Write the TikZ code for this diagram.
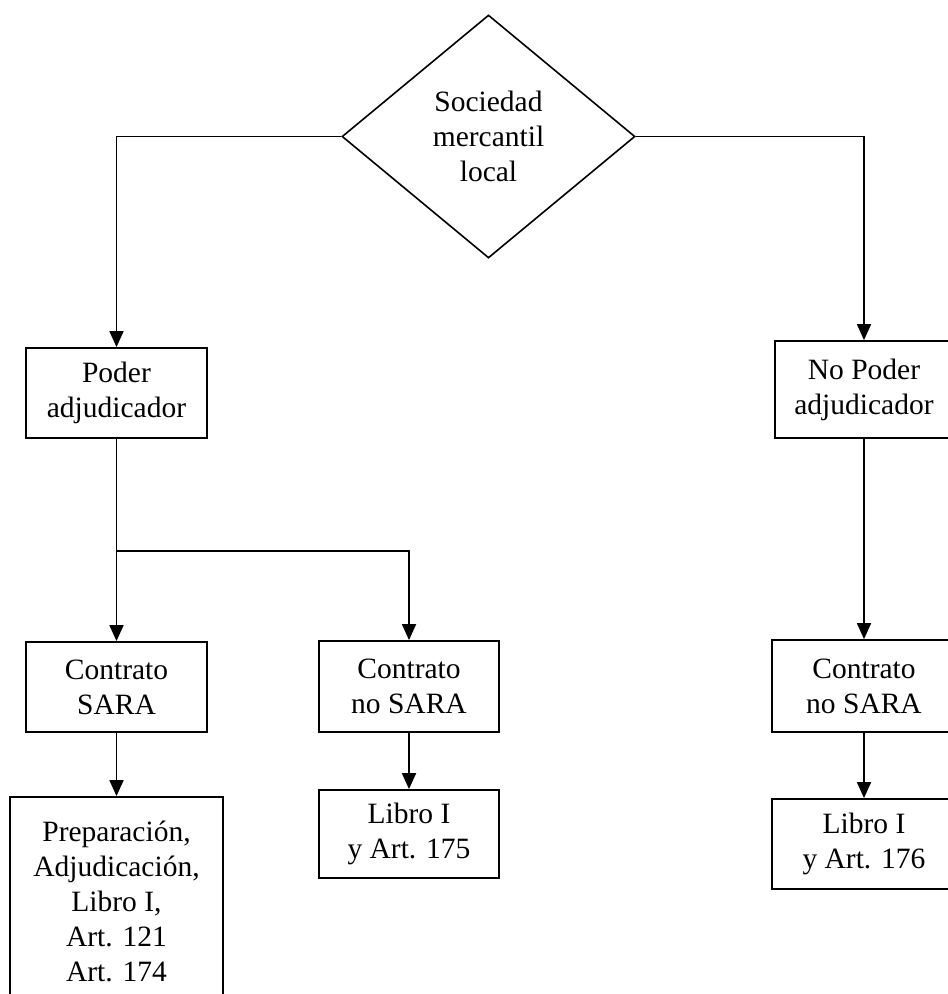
\documentclass[tikz,border=0pt]{standalone}
\usepackage{fontspec}
\setmainfont{Liberation Serif}
\usetikzlibrary{shapes.geometric,arrows.meta}

\tikzset{
  box/.style={draw, line width=1.8pt, align=center, inner sep=0pt,
    font=\fontsize{29.5}{35}\selectfont},
  decision/.style={draw, diamond, line width=1.6pt, align=center, inner sep=0pt,
    aspect=1.2, font=\fontsize{29.5}{35}\selectfont},
  arr/.style={line width=1.8pt, -{Triangle[length=16pt,width=14pt]}}
}

\begin{document}
\begin{tikzpicture}[x=1pt,y=-1pt]
  \useasboundingbox (0,0) rectangle (948,994);
  \clip (0,0) rectangle (948,994);

  % decision
  \node[decision, minimum width=293pt, minimum height=243pt] (soc) at (488.5,136.5)
    {Sociedad\\mercantil\\local};

  % second level
  \node[box, minimum width=181pt, minimum height=90pt] (pa) at (116.5,393) {Poder\\adjudicador};
  \node[box, minimum width=178pt, minimum height=97pt] (npa) at (864,389.5) {No Poder\\adjudicador};

  % contracts
  \node[box, minimum width=181pt, minimum height=90pt] (cs) at (116.5,687) {Contrato\\SARA};
  \node[box, minimum width=180pt, minimum height=91pt] (cns) at (409,686.5) {Contrato\\no SARA};
  \node[box, minimum width=184pt, minimum height=92pt] (cnsr) at (864,686) {Contrato\\no SARA};

  % rules
  \node[box, minimum width=213pt, minimum height=208pt] (prep) at (116.5,901)
    {Preparación,\\Adjudicación,\\Libro I,\\Art. 121\\Art. 174};
  \node[box, minimum width=180pt, minimum height=88pt] (l175) at (409,834) {Libro I\\y Art. 175};
  \node[box, minimum width=184pt, minimum height=90pt] (l176) at (864,844) {Libro I\\y Art. 176};

  \coordinate (br) at (116.5,551);

  \draw[arr] (soc.west) -| (pa.north);
  \draw[arr] (soc.east) -| (npa.north);
  \draw[arr] (pa.south) -- (cs.north);
  \draw[arr] (br) -| (cns.north);
  \draw[arr] (npa.south) -- (cnsr.north);
  \draw[arr] (cs.south) -- (prep.north);
  \draw[arr] (cns.south) -- (l175.north);
  \draw[arr] (cnsr.south) -- (l176.north);
\end{tikzpicture}
\end{document}
